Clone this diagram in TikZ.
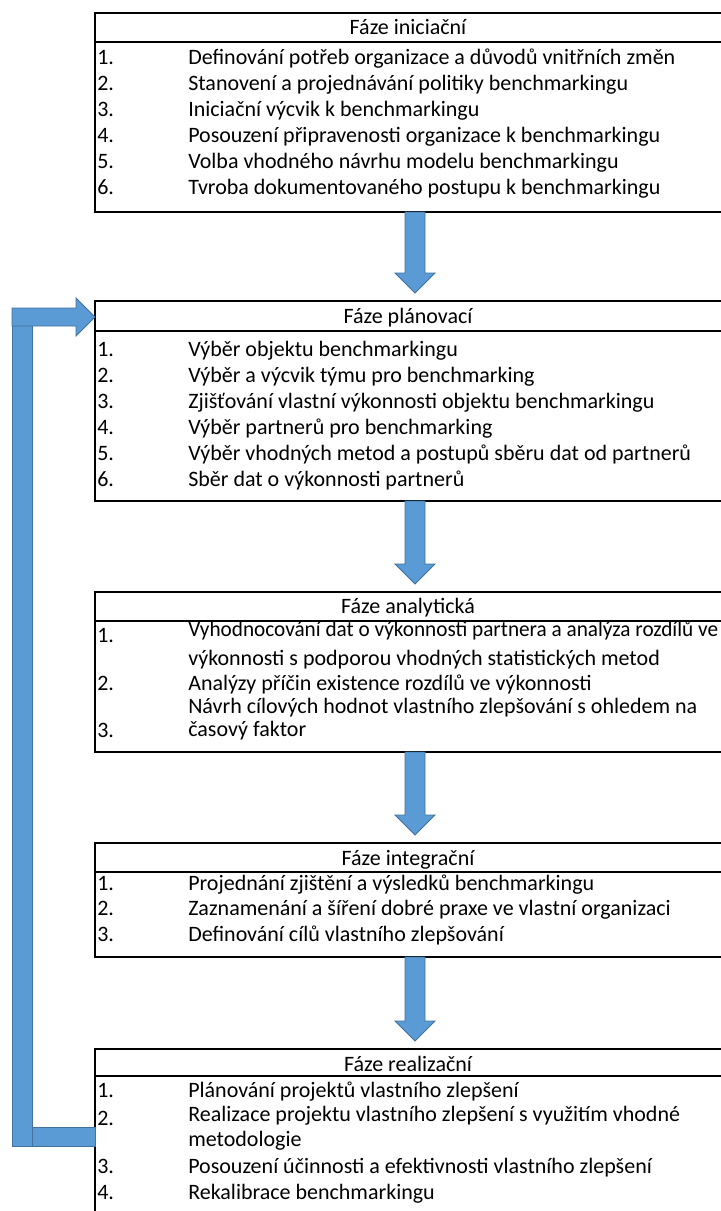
\documentclass[tikz,border=0pt]{standalone}
\usepackage{fontspec}
\usepackage{graphicx}
\setmainfont{Carlito}
\usetikzlibrary{calc}
\definecolor{arrowfill}{HTML}{5B9BD5}
\definecolor{arrowline}{HTML}{41719C}
\newcommand\blockdown[2]{%
  \path[blockarrow] ($(#1)+(-10,0)$) -- ($(#2)+(-10,-28)$) -- ($(#2)+(-20,-28)$)
    -- ($(#2)+(0,-8)$) -- ($(#2)+(20,-28)$) -- ($(#2)+(10,-28)$) -- ($(#1)+(10,0)$) -- cycle;}
\begin{document}
\begin{tikzpicture}[x=0.75pt,y=-0.75pt,
  txt/.style={anchor=base west, inner sep=0pt, font=\fontsize{16.5}{20}\selectfont},
  hdr/.style={anchor=base, inner sep=0pt, font=\fontsize{16.5}{20}\selectfont},
  rule/.style={line width=1.8pt, line cap=rect},
  leftrule/.style={line width=1.1pt},
  blockarrow/.style={fill=arrowfill, draw=arrowline, line width=0.6pt, line join=miter}]
\useasboundingbox (0,0) rectangle (721,1211);

% ---------- box 1 ----------
\coordinate (b1t) at (95,13); \coordinate (b1h) at (95,42); \coordinate (b1b) at (95,212);
\draw[rule] (b1t) -- +(640,0); \draw[rule] (b1h) -- +(640,0); \draw[rule] (b1b) -- +(640,0);
\draw[leftrule] (b1t) -- (b1b);
\node[hdr] (h1) at (408,34) {Fáze iniciační};
\node[txt] (n11) at (97,64) {1.};  \node[txt] (r11) at (188,64) {Definování potřeb organizace a důvodů vnitřních změn};
\node[txt] (n12) at (97,90) {2.};  \node[txt] (r12) at (188,90) {Stanovení a projednávání politiky benchmarkingu};
\node[txt] (n13) at (97,116) {3.}; \node[txt] (r13) at (188,116) {Iniciační výcvik k benchmarkingu};
\node[txt] (n14) at (97,142) {4.}; \node[txt] (r14) at (188,142) {Posouzení připravenosti organizace k benchmarkingu};
\node[txt] (n15) at (97,168) {5.}; \node[txt] (r15) at (188,168) {Volba vhodného návrhu modelu benchmarkingu};
\node[txt] (n16) at (97,194) {6.}; \node[txt] (r16) at (188,194) {Tvroba dokumentovaného postupu k benchmarkingu};

% ---------- box 2 ----------
\coordinate (b2t) at (95,301); \coordinate (b2h) at (95,331); \coordinate (b2b) at (95,501);
\draw[rule] (b2t) -- +(640,0); \draw[rule] (b2h) -- +(640,0); \draw[rule] (b2b) -- +(640,0);
\draw[leftrule] (b2t) -- (b2b);
\node[hdr] (h2) at (408,323) {Fáze plánovací};
\node[txt] (n21) at (97,356) {1.}; \node[txt] (r21) at (188,356) {Výběr objektu benchmarkingu};
\node[txt] (n22) at (97,382) {2.}; \node[txt] (r22) at (188,382) {Výběr a výcvik týmu pro benchmarking};
\node[txt] (n23) at (97,408) {3.}; \node[txt] (r23) at (188,408) {Zjišťování vlastní výkonnosti objektu benchmarkingu};
\node[txt] (n24) at (97,434) {4.}; \node[txt] (r24) at (188,434) {Výběr partnerů pro benchmarking};
\node[txt] (n25) at (97,460) {5.}; \node[txt] (r25) at (188,460) {Výběr vhodných metod a postupů sběru dat od partnerů};
\node[txt] (n26) at (97,486) {6.}; \node[txt] (r26) at (188,486) {Sběr dat o výkonnosti partnerů};

% ---------- box 3 ----------
\coordinate (b3t) at (95,592); \coordinate (b3h) at (95,621); \coordinate (b3b) at (95,752);
\draw[rule] (b3t) -- +(640,0); \draw[rule] (b3h) -- +(640,0); \draw[rule] (b3b) -- +(640,0);
\draw[leftrule] (b3t) -- (b3b);
\node[hdr] (h3) at (408,613) {Fáze analytická};
\node[txt] (n31) at (97,642) {1.}; \node[txt] (r31) at (188,636) {\scalebox{0.965}[1]{Vyhodnocování dat o výkonnosti partnera a analýza rozdílů ve}};
\node[txt] (r31b) at (188,665) {výkonnosti s podporou vhodných statistických metod};
\node[txt] (n32) at (97,690) {2.}; \node[txt] (r32) at (188,690) {Analýzy příčin existence rozdílů ve výkonnosti};
\node[txt] (r33a) at (188,713) {Návrh cílových hodnot vlastního zlepšování s ohledem na};
\node[txt] (n33) at (97,737) {3.}; \node[txt] (r33) at (188,736) {časový faktor};

% ---------- box 4 ----------
\coordinate (b4t) at (95,843); \coordinate (b4h) at (95,872); \coordinate (b4b) at (95,957);
\draw[rule] (b4t) -- +(640,0); \draw[rule] (b4h) -- +(640,0); \draw[rule] (b4b) -- +(640,0);
\draw[leftrule] (b4t) -- (b4b);
\node[hdr] (h4) at (408,865) {Fáze integrační};
\node[txt] (n41) at (97,890) {1.}; \node[txt] (r41) at (188,890) {Projednání zjištění a výsledků benchmarkingu};
\node[txt] (n42) at (97,915) {2.}; \node[txt] (r42) at (188,915) {Zaznamenání a šíření dobré praxe ve vlastní organizaci};
\node[txt] (n43) at (97,941) {3.}; \node[txt] (r43) at (188,941) {Definování cílů vlastního zlepšování};

% ---------- box 5 ----------
\coordinate (b5t) at (95,1049); \coordinate (b5h) at (95,1076); \coordinate (b5b) at (95,1215);
\draw[rule] (b5t) -- +(640,0); \draw[rule] (b5h) -- +(640,0);
\draw[leftrule] (b5t) -- (b5b);
\node[hdr] (h5) at (408,1071) {Fáze realizační};
\node[txt] (n51) at (97,1097) {1.}; \node[txt] (r51) at (188,1097) {Plánování projektů vlastního zlepšení};
\node[txt] (n52) at (97,1125) {2.}; \node[txt] (r52) at (188,1121) {Realizace projektu vlastního zlepšení s využitím vhodné};
\node[txt] (r52b) at (188,1146) {metodologie};
\node[txt] (n53) at (97,1173) {3.}; \node[txt] (r53) at (188,1173) {Posouzení účinnosti a efektivnosti vlastního zlepšení};
\node[txt] (n54) at (97,1199) {4.}; \node[txt] (r54) at (188,1199) {Rekalibrace benchmarkingu};

% ---------- down arrows ----------
\coordinate (a1s) at (415,212);  \coordinate (a1e) at (415,301);
\coordinate (a2s) at (415,501);  \coordinate (a2e) at (415,592);
\coordinate (a3s) at (415,752);  \coordinate (a3e) at (415,843);
\coordinate (a4s) at (415,957);  \coordinate (a4e) at (415,1049);
\blockdown{a1s}{a1e}
\blockdown{a2s}{a2e}
\blockdown{a3s}{a3e}
\blockdown{a4s}{a4e}

% ---------- feedback arrow ----------
\coordinate (fb) at (95,1146);   % bottom bar end at box 5
\coordinate (ft) at (95,317);    % tip at box 2
\path[blockarrow] (32,1127) -- (fb |- 0,1127) -- (fb) -- (32,1146) -- cycle;
\path[blockarrow] (12,317) rectangle (32,1146);
\path[blockarrow] (12,308) -- (76,308) -- (76,298) -- (ft) -- (76,336) -- (76,326) -- (12,326) -- cycle;
\end{tikzpicture}
\end{document}
